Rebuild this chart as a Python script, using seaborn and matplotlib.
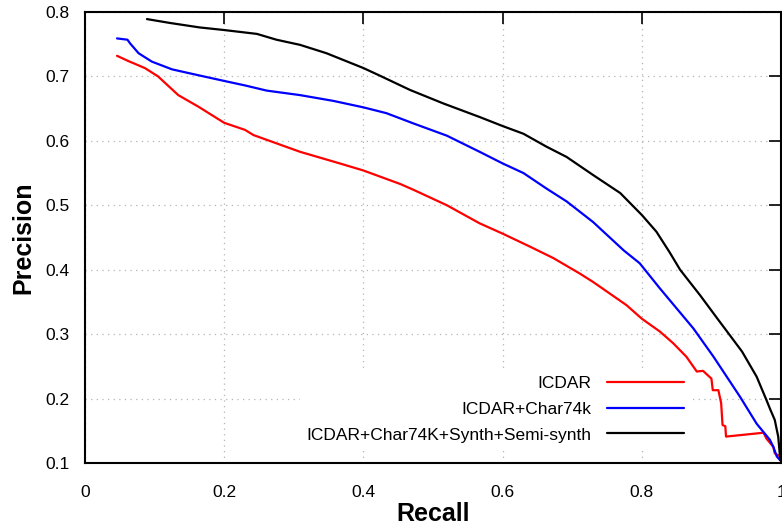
import matplotlib
matplotlib.use("Agg")
import matplotlib.pyplot as plt
import seaborn as sns
import pandas as pd
import numpy as np

# ---- data ----
series_names = ["ICDAR", "ICDAR+Char74k", "ICDAR+Char74K+Synth+Semi-synth"]
series_colors = ["#ff0000", "#0000ff", "#000000"]

icdar_recall = [0.046, 0.062, 0.086, 0.105, 0.134, 0.163, 0.200, 0.230, 0.242, 0.309,
                0.366, 0.400, 0.453, 0.472, 0.520, 0.567, 0.600, 0.639, 0.673, 0.711,
                0.730, 0.778, 0.800, 0.826, 0.845, 0.864, 0.879, 0.888, 0.900, 0.902,
                0.910, 0.914, 0.916, 0.920, 0.921, 0.975, 0.979, 0.989, 0.991, 0.999]
icdar_precision = [0.732, 0.724, 0.713, 0.700, 0.671, 0.653, 0.628, 0.617, 0.609, 0.583,
                   0.565, 0.554, 0.533, 0.524, 0.500, 0.472, 0.456, 0.436, 0.418, 0.394,
                   0.381, 0.345, 0.324, 0.304, 0.286, 0.265, 0.242, 0.243, 0.231, 0.213,
                   0.213, 0.193, 0.159, 0.157, 0.141, 0.147, 0.138, 0.125, 0.115, 0.110]

char74k_recall = [0.046, 0.061, 0.065, 0.077, 0.096, 0.125, 0.158, 0.200, 0.230, 0.261,
                  0.309, 0.357, 0.400, 0.433, 0.472, 0.520, 0.567, 0.600, 0.630, 0.663,
                  0.692, 0.730, 0.774, 0.797, 0.826, 0.874, 0.903, 0.922, 0.941, 0.965,
                  0.984, 0.989, 0.994, 0.999]
char74k_precision = [0.759, 0.757, 0.751, 0.736, 0.723, 0.711, 0.703, 0.693, 0.686, 0.678,
                     0.671, 0.662, 0.652, 0.643, 0.627, 0.608, 0.583, 0.565, 0.550, 0.526,
                     0.506, 0.474, 0.430, 0.410, 0.371, 0.309, 0.265, 0.234, 0.203, 0.161,
                     0.136, 0.125, 0.110, 0.104]

synth_recall = [0.089, 0.122, 0.165, 0.200, 0.247, 0.275, 0.309, 0.347, 0.400, 0.424,
                0.467, 0.515, 0.567, 0.600, 0.630, 0.663, 0.692, 0.730, 0.769, 0.800,
                0.821, 0.840, 0.855, 0.884, 0.908, 0.944, 0.965, 0.979, 0.985, 0.991,
                0.996, 0.999]
synth_precision = [0.789, 0.783, 0.776, 0.772, 0.766, 0.757, 0.749, 0.736, 0.713, 0.701,
                   0.679, 0.658, 0.637, 0.623, 0.611, 0.591, 0.575, 0.547, 0.519, 0.485,
                   0.459, 0.427, 0.400, 0.360, 0.325, 0.273, 0.234, 0.198, 0.182, 0.167,
                   0.141, 0.105]

x_ticks = [0, 0.2, 0.4, 0.6, 0.8, 1]
x_tick_labels = ["0", "0.2", "0.4", "0.6", "0.8", "1"]
y_ticks = [0.1, 0.2, 0.3, 0.4, 0.5, 0.6, 0.7, 0.8]
y_tick_labels = ["0.1", "0.2", "0.3", "0.4", "0.5", "0.6", "0.7", "0.8"]

# ---- build long-form table ----
frames = []
for name, r, p in zip(series_names,
                      [icdar_recall, char74k_recall, synth_recall],
                      [icdar_precision, char74k_precision, synth_precision]):
    frames.append(pd.DataFrame({"Recall": r, "Precision": p, "Series": name,
                                "order": np.arange(len(r))}))
df = pd.concat(frames, ignore_index=True)

sns.set_style("white")
plt.rcParams["font.family"] = ["Liberation Sans", "DejaVu Sans"]
plt.rcParams["text.color"] = "black"
plt.rcParams["axes.labelcolor"] = "black"

fig = plt.figure(figsize=(7.82, 5.29), dpi=100)
ax = fig.add_axes([85 / 782, 1 - 463 / 529, 696 / 782, 451 / 529])

sns.lineplot(data=df, x="Recall", y="Precision", hue="Series", hue_order=series_names,
             palette=series_colors, sort=False, estimator=None, units="Series",
             linewidth=1.6, ax=ax, legend=False)

ax.set_xlim(0, 1)
ax.set_ylim(0.1, 0.8)
ax.set_xticks(x_ticks)
ax.set_xticklabels(x_tick_labels)
ax.set_yticks(y_ticks)
ax.set_yticklabels(y_tick_labels)

ax.grid(True, color="#b4b4b4", linestyle=(0, (1, 3.5)), linewidth=0.9)
ax.set_axisbelow(True)

for s in ax.spines.values():
    s.set_visible(True)
    s.set_color("black")
    s.set_linewidth(1.5)

ax.tick_params(axis="both", direction="in", top=True, right=True, length=8.6,
               width=1.2, labelsize=12.5, colors="black", labelcolor="black")
ax.tick_params(axis="x", pad=16)
ax.tick_params(axis="y", pad=11)

ax.set_xlabel("Recall", fontsize=18, fontweight="bold", labelpad=1, color="black")
ax.set_ylabel("Precision", fontsize=18, fontweight="bold", labelpad=7, color="black")

handles = [plt.Line2D([], [], color=c, lw=1.6) for c in series_colors]
leg = ax.legend(handles, series_names, loc="lower right", bbox_to_anchor=(0.87, 0.03),
                markerfirst=False, frameon=True, fancybox=False, framealpha=1,
                edgecolor="white", facecolor="white", fontsize=12.5,
                handlelength=4.4, handletextpad=0.9, labelspacing=0.6,
                borderpad=0.4, borderaxespad=0)
for t in leg.get_texts():
    t.set_color("black")

fig.savefig("out.png", dpi=100)
